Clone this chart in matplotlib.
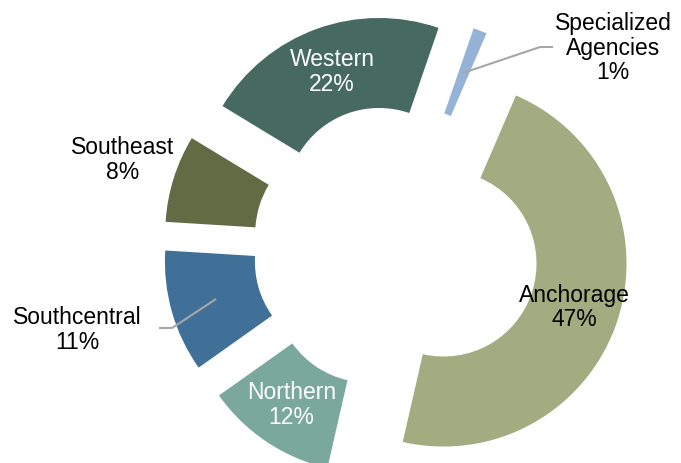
import numpy as np
import matplotlib
matplotlib.use('Agg')
import matplotlib.pyplot as plt

# slice data, clockwise from the top
regions = ['Specialized\nAgencies', 'Anchorage', 'Northern', 'Southcentral', 'Southeast', 'Western']
shares = [1.2, 47.1, 11.6, 10.8, 7.7, 21.6]
colors = ['#95B3D7', '#A3AB80', '#7AA89C', '#407098', '#636B45', '#466A60']
inside = [False, True, True, False, False, True]
label_colors = ['black', 'black', 'white', 'black', 'black', 'white']

# outside labels: text position, elbow of leader (None = no leader)
out_text = {0: (613, 416), 3: (77, 134), 4: (123, 304)}
out_elbow = {0: (540, 416), 3: (172, 135)}

plt.rcParams['font.family'] = ['Liberation Sans', 'DejaVu Sans']

fig = plt.figure(figsize=(6.81, 4.64), dpi=100)
ax = fig.add_axes([0, 0, 1, 1])

R = 183
ring = 90
wedges, _ = ax.pie(shares, colors=colors, startangle=71, counterclock=False,
                   radius=R, center=(396, 215), explode=[50] * len(shares),
                   wedgeprops=dict(width=ring, linewidth=0))

for i, w in enumerate(wedges):
    mid = np.deg2rad((w.theta1 + w.theta2) / 2)
    cx, cy = w.center
    ax_, ay_ = cx + (R - ring / 2) * np.cos(mid), cy + (R - ring / 2) * np.sin(mid)
    txt = '%s\n%d%%' % (regions[i], round(shares[i]))
    if inside[i]:
        ax.text(ax_, ay_, txt, color=label_colors[i], fontsize=16.5, ha='center',
                va='center', linespacing=1.1)
    else:
        tx, ty = out_text[i]
        ax.text(tx, ty, txt, color=label_colors[i], fontsize=16.5, ha='center',
                va='center', linespacing=1.1)
        if i in out_elbow:
            ex, ey = out_elbow[i]
            end = ex + 12 if tx > ex else ex - 12
            ax.plot([ax_, ex, end], [ay_, ey, ey], color='#A6A6A6', lw=1.5)

ax.set_xlim(0, 681)
ax.set_ylim(0, 464)
ax.set_aspect('equal')
ax.axis('off')

fig.savefig('out.png', dpi=100)
